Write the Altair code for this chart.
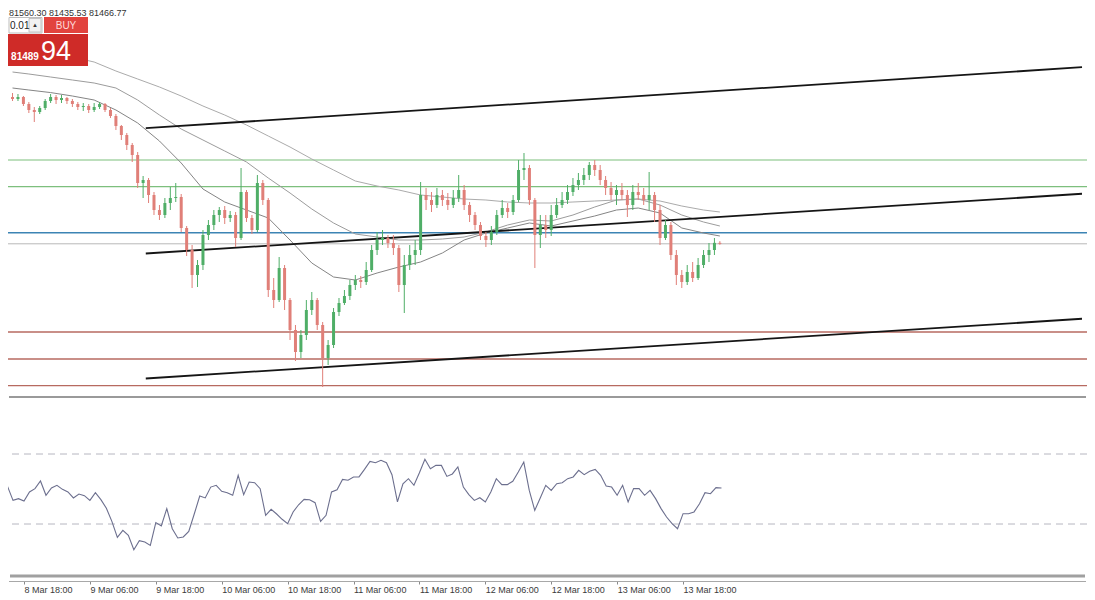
import altair as alt
import pandas as pd

HOUR = 3_600_000
T0 = int(pd.Timestamp("2025-03-08 18:00", tz="UTC").timestamp() * 1000)

# ---------------- data (hourly candles, hours relative to 8 Mar 18:00) ----------------
candle_hours = list(range(-3, 128))
first_open = 86605
close_px = [86535, 86605, 86360, 86150, 86080, 86220, 86465, 86605, 86500, 86570,
            86465, 86360, 86255, 86290, 86150, 86255, 86360, 86150, 85940, 85590,
            85275, 84925, 84575, 83595, 83700, 83175, 82650, 82475, 82895, 83070,
            83105, 82020, 81250, 80375, 80725, 81775, 82125, 82475, 82650, 82370,
            82475, 81670, 83280, 82370, 81950, 83595, 83000, 79850, 79500, 80620,
            79500, 78450, 77680, 78275, 79150, 79500, 78625, 77470, 77925, 79080,
            79395, 79640, 80025, 80200, 80130, 80550, 81250, 81600, 81670, 81495,
            81320, 80025, 80725, 81075, 81250, 83175, 83000, 82825, 83175, 83000,
            82825, 83070, 83350, 82825, 82475, 82125, 81740, 81600, 81880, 82475,
            82720, 82580, 83000, 84050, 84120, 83000, 81775, 82125, 81950, 82475,
            82825, 83000, 83280, 83525, 83700, 83875, 84225, 84050, 83700, 83420,
            83175, 83350, 83175, 82825, 83280, 83175, 83000, 83175, 82650, 81670,
            82125, 81075, 80375, 80130, 80480, 80270, 80725, 81075, 81250, 81500,
            81467]
high_px = [86745, 86710, 86640, 86430, 86255, 86290, 86535, 86710, 86675, 86675,
           86605, 86535, 86430, 86395, 86360, 86395, 86430, 86395, 86220, 86010,
           85625, 85345, 84995, 84680, 83840, 83770, 83280, 82825, 83070, 83455,
           83595, 83210, 82090, 81425, 80900, 81950, 82300, 82650, 82755, 82790,
           82615, 82580, 84120, 83350, 82475, 83875, 83700, 83070, 80270, 81005,
           80725, 79570, 78625, 78450, 79500, 79780, 79570, 78730, 78100, 79220,
           79570, 79850, 80200, 80375, 80340, 80830, 81425, 81880, 81950, 81775,
           81775, 81425, 81075, 81425, 81600, 83630, 83420, 83280, 83420, 83350,
           83245, 83350, 83875, 83525, 82930, 82580, 82230, 81880, 82090, 82650,
           83000, 82895, 83175, 84400, 84645, 84225, 83070, 82475, 82475, 82825,
           83070, 83280, 83525, 83770, 83945, 84120, 84330, 84400, 84225, 83840,
           83630, 83525, 83595, 83350, 83525, 83595, 83420, 83980, 83280, 82825,
           82300, 82230, 81250, 80550, 80725, 80830, 80970, 81250, 81495, 81670,
           81560]
low_px = [86465, 86465, 86290, 86045, 85730, 86010, 86150, 86395, 86360, 86395,
          86360, 86255, 86150, 86115, 86045, 86080, 86185, 86080, 85870, 85450,
          85100, 84750, 84330, 83420, 83070, 82895, 82475, 82300, 82370, 82650,
          82930, 81880, 81040, 79920, 79955, 80550, 81600, 81950, 82230, 82160,
          82230, 81355, 81600, 82230, 81810, 81880, 82825, 79605, 79220, 79430,
          79150, 78100, 77365, 77470, 78100, 78975, 78450, 76455, 77225, 77820,
          78940, 79325, 79500, 79850, 79920, 80025, 80480, 81075, 81425, 81320,
          81075, 79780, 79045, 80550, 80725, 81075, 82650, 82580, 82720, 82790,
          82650, 82720, 82930, 82650, 82230, 81950, 81600, 81355, 81425, 81775,
          82370, 82370, 82475, 82930, 83700, 82825, 80620, 81320, 81670, 81740,
          82370, 82720, 82860, 83140, 83350, 83525, 83700, 83840, 83525, 83175,
          83000, 82825, 83000, 82405, 82650, 83000, 82825, 82650, 82230, 81425,
          81600, 80900, 80025, 79920, 80025, 80130, 80200, 80620, 80830, 81075,
          81435]
rsi_vals = [51.5, 43.5, 44.5, 43.1, 48.3, 50.2, 54.6, 46.4, 50.6, 52.1,
            49.8, 48.3, 44.9, 47.1, 46.2, 43.5, 47.9, 43.9, 39.0, 31.5,
            22.4, 26.4, 23.5, 15.3, 20.5, 19.7, 17.8, 30.8, 28.9, 38.8,
            27.3, 22.0, 22.6, 25.8, 35.7, 46.0, 44.9, 51.1, 52.1, 48.7,
            47.9, 46.4, 57.8, 46.8, 54.0, 53.6, 50.2, 35.0, 38.4, 35.7,
            32.7, 30.2, 36.9, 41.0, 44.1, 43.9, 42.2, 31.5, 35.0, 48.3,
            49.6, 55.5, 55.0, 56.9, 56.9, 61.2, 65.8, 65.0, 66.4, 65.0,
            58.2, 42.6, 53.0, 55.9, 52.1, 59.3, 67.0, 61.6, 63.5, 63.5,
            57.2, 58.6, 62.6, 51.1, 46.8, 43.5, 45.0, 42.6, 48.3, 55.9,
            52.5, 52.5, 54.4, 59.7, 65.4, 49.2, 37.8, 44.9, 52.1, 49.2,
            53.0, 53.6, 55.9, 56.9, 60.7, 58.2, 60.1, 61.2, 57.8, 51.7,
            51.1, 46.4, 52.1, 42.6, 50.2, 50.2, 46.4, 49.2, 44.5, 38.8,
            34.0, 30.2, 27.3, 35.9, 35.9, 36.9, 41.6, 47.9, 47.3, 50.8,
            50.6]

ma_hours = [-3] + list(range(0, 125, 4)) + [127]
ma_fast = [86920, 86850, 86760, 86640, 86500, 86150, 85695, 85065, 84295, 83385,
           82930, 82650, 82370, 81600, 80795, 80305, 80200, 80445, 80655, 80830,
           81145, 81600, 81845, 82020, 82195, 82090, 82265, 82440, 82650, 82720,
           82545, 82020, 81845, 81740]
ma_mid = [87480, 87410, 87305, 87200, 87095, 86920, 86500, 85975, 85485, 85100,
          84715, 84330, 83770, 83245, 82685, 82195, 81810, 81705, 81600, 81600,
          81635, 81705, 81880, 82125, 82300, 82265, 82475, 82755, 83000, 83035,
          82825, 82475, 82230, 82090]
ma_slow = [88425, 88320, 88145, 88005, 87830, 87515, 87235, 86955, 86640, 86290,
           85975, 85625, 85240, 84855, 84435, 84050, 83665, 83490, 83350, 83175,
           83105, 83035, 83000, 82930, 82895, 82895, 82930, 82965, 83000, 83035,
           82965, 82790, 82650, 82580]

level_prices = [84400, 83465, 81855, 81467, 78380, 77435, 76500]
level_colors = ["#7dbf7d", "#7dbf7d", "#3c84b4", "#b8b8b8", "#b76a60", "#b76a60", "#b76a60"]
level_widths = [1.2, 1.2, 1.6, 1.0, 1.3, 1.3, 1.3]

channel_ids = ["top", "mid", "bottom"]
channel_hours = [21.49, 193.554]
channel_start = [85513, 81128, 76753]
channel_end = [87648, 83218, 78843]

tick_hours = list(range(0, 121, 12))
header_text = "81560.30 81435.53 81466.77"

# ---------------- build tables ----------------
def ms(h):
    return T0 + h * HOUR

opens = [first_open] + close_px[:-1]
cdf = pd.DataFrame({
    "t": [ms(h) for h in candle_hours],
    "o": opens, "c": close_px, "h": high_px, "l": low_px,
})
cdf["dir"] = ["up" if c >= o else "down" for o, c in zip(cdf["o"], cdf["c"])]

rdf = pd.DataFrame({"t": [ms(h) for h in candle_hours], "r": rsi_vals})

ma_rows = []
for name, col, vals in [("fast", "#858585", ma_fast), ("mid", "#9c9c9c", ma_mid), ("slow", "#ababab", ma_slow)]:
    for h, v in zip(ma_hours, vals):
        ma_rows.append({"id": name, "c": col, "t": ms(h), "p": v})
madf = pd.DataFrame(ma_rows)

ch_rows = []
for cid, a, b in zip(channel_ids, channel_start, channel_end):
    ch_rows.append({"id": cid, "t": ms(channel_hours[0]), "p": a})
    ch_rows.append({"id": cid, "t": ms(channel_hours[1]), "p": b})
chdf = pd.DataFrame(ch_rows)

ldf = pd.DataFrame({"p": level_prices, "c": level_colors, "w": level_widths})

W = 1079
H_MAIN = 388
H_RSI = 175
x0 = ms(-2.9133)
x1 = ms(193.554)

xs = alt.Scale(type="utc", domain=[x0, x1])
ys = alt.Scale(domain=[76140, 89720], zero=False, nice=False)
X = alt.X("t:T", scale=xs, axis=None)
UP, DOWN = "#4fae67", "#e07f78"
ccol = alt.Color("dir:N", scale=alt.Scale(domain=["up", "down"], range=[UP, DOWN]), legend=None)

one = pd.DataFrame({"a": [0]})

levels = alt.Chart(ldf).mark_rule(clip=True).encode(
    y=alt.Y("p:Q", scale=ys, axis=None),
    color=alt.Color("c:N", scale=None),
    strokeWidth=alt.StrokeWidth("w:Q", scale=None),
)
mas = alt.Chart(madf).mark_line(strokeWidth=1, clip=True).encode(
    x=X, y=alt.Y("p:Q", scale=ys, axis=None),
    detail="id:N", color=alt.Color("c:N", scale=None),
)
channel = alt.Chart(chdf).mark_line(color="#151515", strokeWidth=1.8, clip=True).encode(
    x=X, y=alt.Y("p:Q", scale=ys, axis=None), detail="id:N",
)
wicks = alt.Chart(cdf).mark_rule(strokeWidth=1, clip=True).encode(
    x=X, y=alt.Y("l:Q", scale=ys, axis=None), y2="h:Q", color=ccol,
)
bodies = alt.Chart(cdf).mark_bar(width=3, clip=True).encode(
    x=X, y=alt.Y("o:Q", scale=ys, axis=None), y2="c:Q", color=ccol,
)
sep = alt.Chart(one).mark_rule(color="#9a9a9a", strokeWidth=2).encode(
    x=alt.value(1), x2=alt.value(W - 1), y=alt.value(H_MAIN + 1))

header = alt.Chart(one).mark_text(
    text=header_text, align="left", baseline="top", font="Liberation Sans",
    fontSize=9, color="#333333",
).encode(x=alt.value(1), y=alt.value(1))

def box(x_a, x_b, y_a, y_b, fill, stroke=None):
    kw = {"fill": fill}
    if stroke:
        kw["stroke"] = stroke
        kw["strokeWidth"] = 1
    return alt.Chart(one).mark_rect(**kw).encode(
        x=alt.value(x_a), x2=alt.value(x_b), y=alt.value(y_a), y2=alt.value(y_b))

def label(txt, x, y, size, color, align="center", weight="normal"):
    return alt.Chart(one).mark_text(
        text=txt, align=align, baseline="middle", font="Liberation Sans",
        fontSize=size, color=color, fontWeight=weight,
    ).encode(x=alt.value(x), y=alt.value(y))

widget = [
    box(0, 80, 26, 58, "#cf2b28"),
    box(36, 80, 9, 25, "#e2433e"),
    box(1, 34, 9.5, 25, "#ffffff", "#bdbdbd"),
    box(21, 33, 10.5, 24, "#f1f1f1", "#c4c4c4"),
    label("0.01", 2, 17.5, 10, "#222222", align="left"),
    label("\u25b2", 27, 17, 6, "#333333"),
    label("BUY", 58, 18, 10, "#ffd9d9"),
    label("81489", 17, 49, 10, "#ffffff", weight="bold"),
    label("94", 48, 44, 27, "#ffffff"),
]

main = alt.layer(levels, mas, channel, wicks, bodies, sep, header, *widget).properties(
    width=W, height=H_MAIN)

axis_x = alt.Axis(
    values=[ms(h) for h in tick_hours],
    labelExpr="utcFormat(datum.value, '%-d %b %H:%M')",
    labelAlign="left", labelFont="Liberation Sans", labelFontSize=9,
    labelColor="#3a3a3a", tickColor="#8a8a8a", tickSize=3, tickWidth=1,
    domain=False, offset=6, grid=False, title=None,
    labelPadding=1, labelOverlap=False, labelFlush=False, labelBound=False,
)
rys = alt.Scale(domain=[0.86, 100.86], nice=False, zero=False)
rsi_line = alt.Chart(rdf).mark_line(color="#6c6f8e", strokeWidth=1.1, clip=True).encode(
    x=alt.X("t:T", scale=xs, axis=axis_x),
    y=alt.Y("r:Q", scale=rys, axis=None),
)
rsi_levels = alt.Chart(pd.DataFrame({"r": [70, 30]})).mark_rule(
    color="#b6b6c0", strokeDash=[7, 5], strokeWidth=1, clip=True).encode(
    y=alt.Y("r:Q", scale=rys, axis=None))
rsi_bottom = alt.Chart(one).mark_rule(color="#a0a0a0", strokeWidth=3).encode(
    x=alt.value(2), x2=alt.value(W - 2), y=alt.value(H_RSI + 1))
axis_line = alt.Chart(one).mark_rule(color="#a8a8a8", strokeWidth=1).encode(
    x=alt.value(1), x2=alt.value(W - 1), y=alt.value(H_RSI + 6.5))

rsi = alt.layer(rsi_levels, rsi_line, rsi_bottom, axis_line).properties(width=W, height=H_RSI)

chart = alt.vconcat(main, rsi, spacing=2).properties(
    padding={"left": 0, "top": 0, "right": 0, "bottom": 0}
).configure(background="white").configure_view(strokeWidth=0, stroke="transparent")

chart.save("out.html", embed_options={"renderer": "svg", "actions": False})
